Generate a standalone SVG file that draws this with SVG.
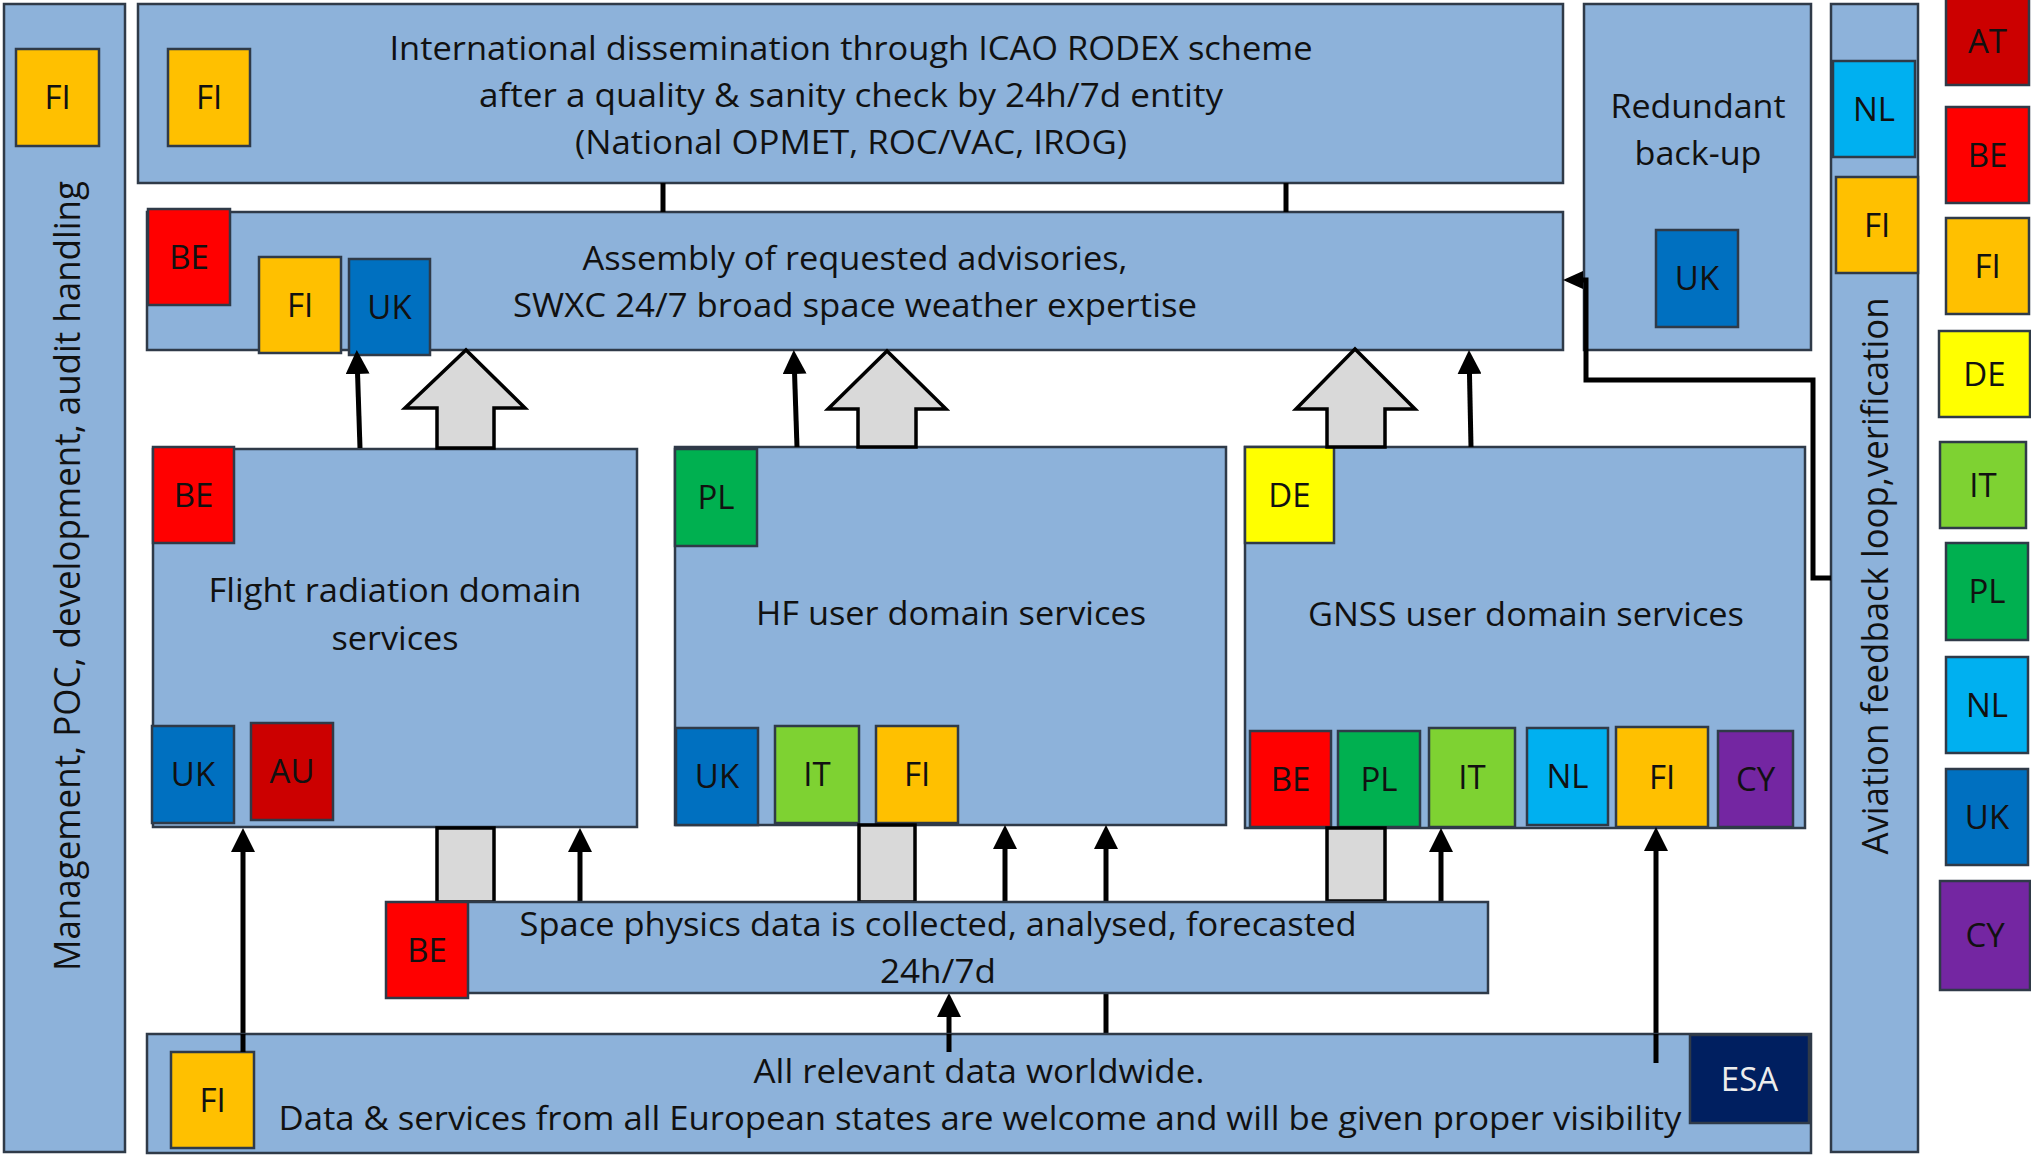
<svg xmlns="http://www.w3.org/2000/svg" width="2031" height="1156" viewBox="0 0 2031 1156">
<defs>
<style>
.box{fill:#8DB2DA;stroke:#2F3A48;stroke-width:2.5}
.tag{stroke:#2F3A48;stroke-width:2.5}
.t{font-family:"Open Sans","Noto Sans","Liberation Sans",sans-serif;font-size:33px;fill:#111;text-anchor:middle}
.vt{font-family:"Open Sans","Noto Sans","Liberation Sans",sans-serif;font-size:36px;fill:#111;text-anchor:middle}
.lb{font-family:"Open Sans","Noto Sans","Liberation Sans",sans-serif;font-size:33px;fill:#111;text-anchor:middle}
.fi{fill:#FFC000}.be{fill:#FF0000}.uk{fill:#0070C0}.au{fill:#CC0000}.pl{fill:#00B050}.it{fill:#7ED232}.nl{fill:#00B0F0}.de{fill:#FFFF00}.cy{fill:#7426A2}.esa{fill:#001F60}
.ln{fill:none;stroke:#000;stroke-width:5}
.ar{fill:none;stroke:#000;stroke-width:5;marker-end:url(#ah)}
.ga{fill:#D9D9D9;stroke:#000;stroke-width:3.5}
</style>
<marker id="ah" viewBox="0 0 24 24" refX="14" refY="12" markerWidth="24" markerHeight="24" markerUnits="userSpaceOnUse" orient="auto"><path d="M0,0 L24,12 L0,24 Z" fill="#000"/></marker>
<marker id="ah2" viewBox="0 0 20 18" refX="12" refY="9" markerWidth="20" markerHeight="18" markerUnits="userSpaceOnUse" orient="auto"><path d="M0,0 L20,9 L0,18 Z" fill="#000"/></marker>
</defs>
<rect width="2031" height="1156" fill="#fff"/>

<g id="management">
<rect class="box" x="4" y="4" width="121" height="1148"/>
<rect class="tag fi" x="16" y="49" width="83" height="97"/><text class="lb" x="57.5" y="109">FI</text>
<text class="vt" transform="translate(80,576) rotate(-90)" textLength="790" lengthAdjust="spacingAndGlyphs">Management, POC, development, audit handling</text>
</g>

<g id="dissemination">
<rect class="box" x="138" y="4" width="1425" height="179"/>
<rect class="tag fi" x="168" y="49" width="82" height="97"/><text class="lb" x="209" y="109">FI</text>
<text class="t" x="851" y="60" textLength="923" lengthAdjust="spacingAndGlyphs">International dissemination through ICAO RODEX scheme</text>
<text class="t" x="851" y="107" textLength="744" lengthAdjust="spacingAndGlyphs">after a quality &amp; sanity check by 24h/7d entity</text>
<text class="t" x="851" y="154" textLength="552" lengthAdjust="spacingAndGlyphs">(National OPMET, ROC/VAC, IROG)</text>
</g>

<g id="assembly">
<rect class="box" x="147" y="212" width="1416" height="138"/>
<rect class="tag be" x="148" y="209" width="82" height="96"/><text class="lb" x="189" y="269">BE</text>
<rect class="tag fi" x="259" y="257" width="82" height="96"/><text class="lb" x="300" y="317">FI</text>
<rect class="tag uk" x="349" y="259" width="81" height="96"/><text class="lb" x="389.5" y="319">UK</text>
<text class="t" x="855" y="270" textLength="545" lengthAdjust="spacingAndGlyphs">Assembly of requested advisories,</text>
<text class="t" x="855" y="317" textLength="684" lengthAdjust="spacingAndGlyphs">SWXC 24/7 broad space weather expertise</text>
</g>

<g id="redundant">
<rect class="box" x="1584" y="4" width="227" height="346"/>
<text class="t" x="1698" y="118" textLength="175" lengthAdjust="spacingAndGlyphs">Redundant</text>
<text class="t" x="1698" y="165" textLength="127" lengthAdjust="spacingAndGlyphs">back-up</text>
<rect class="tag uk" x="1656" y="230" width="82" height="97"/><text class="lb" x="1697" y="290">UK</text>
</g>

<g id="aviation">
<rect class="box" x="1831" y="4" width="87" height="1148"/>
<rect class="tag nl" x="1833" y="61" width="82" height="96"/><text class="lb" x="1874" y="121">NL</text>
<rect class="tag fi" x="1836" y="177" width="82" height="96"/><text class="lb" x="1877" y="237">FI</text>
<text class="vt" transform="translate(1888,576) rotate(-90)" textLength="557" lengthAdjust="spacingAndGlyphs">Aviation feedback loop,verification</text>
</g>

<g id="flight">
<rect class="box" x="153" y="449" width="484" height="378"/>
<rect class="tag be" x="153" y="447" width="81" height="96"/><text class="lb" x="193.5" y="507">BE</text>
<text class="t" x="395" y="602" textLength="373" lengthAdjust="spacingAndGlyphs">Flight radiation domain</text>
<text class="t" x="395" y="650" textLength="127" lengthAdjust="spacingAndGlyphs">services</text>
<rect class="tag uk" x="152" y="726" width="82" height="97"/><text class="lb" x="193" y="786">UK</text>
<rect class="tag au" x="251" y="723" width="82" height="97"/><text class="lb" x="292" y="783">AU</text>
</g>

<g id="hf">
<rect class="box" x="675" y="447" width="551" height="378"/>
<rect class="tag pl" x="675" y="449" width="82" height="97"/><text class="lb" x="716" y="509">PL</text>
<text class="t" x="951" y="625" textLength="390" lengthAdjust="spacingAndGlyphs">HF user domain services</text>
<rect class="tag uk" x="676" y="728" width="82" height="97"/><text class="lb" x="717" y="788">UK</text>
<rect class="tag it" x="775" y="726" width="84" height="97"/><text class="lb" x="817" y="786">IT</text>
<rect class="tag fi" x="876" y="726" width="82" height="97"/><text class="lb" x="917" y="786">FI</text>
</g>

<g id="gnss">
<rect class="box" x="1245" y="447" width="560" height="381"/>
<rect class="tag de" x="1245" y="447" width="89" height="96"/><text class="lb" x="1289.5" y="507">DE</text>
<text class="t" x="1526" y="626" textLength="436" lengthAdjust="spacingAndGlyphs">GNSS user domain services</text>
<rect class="tag be" x="1250" y="731" width="81" height="96"/><text class="lb" x="1290.5" y="791">BE</text>
<rect class="tag pl" x="1338" y="731" width="82" height="96"/><text class="lb" x="1379" y="791">PL</text>
<rect class="tag it" x="1429" y="728" width="86" height="99"/><text class="lb" x="1472" y="789">IT</text>
<rect class="tag nl" x="1527" y="728" width="81" height="97"/><text class="lb" x="1567.5" y="788">NL</text>
<rect class="tag fi" x="1616" y="727" width="92" height="100"/><text class="lb" x="1662" y="789">FI</text>
<rect class="tag cy" x="1718" y="731" width="75" height="96"/><text class="lb" x="1755.5" y="791">CY</text>
</g>

<g id="connectors">
<line class="ln" x1="663" y1="183" x2="663" y2="212"/>
<line class="ln" x1="1286" y1="183" x2="1286" y2="212"/>
<polygon class="ga" points="437,448 437,408 405,408 466,350 525,408 494,408 494,448"/>
<polygon class="ga" points="858,447 858,409 828,409 887,351 946,409 916,409 916,447"/>
<polygon class="ga" points="1327,447 1327,409 1296,409 1355,349 1415,409 1385,409 1385,447"/>
<rect class="ga" x="437" y="828" width="57" height="74"/>
<rect class="ga" x="859" y="825" width="56" height="77"/>
<rect class="ga" x="1327" y="828" width="58" height="73"/>
<path class="ar" d="M360,448 L357.1,360"/>
<path class="ar" d="M797,447 L794.1,360"/>
<path class="ar" d="M1471,447 L1469.2,360"/>
<path class="ar" d="M243,1052 L243,838"/>
<path class="ar" d="M580,902 L580,838"/>
<path class="ar" d="M1005,907 L1005,835"/>
<path class="ar" d="M1106,902 L1106,835"/>
<path class="ln" d="M1106,993 L1106,1034"/>
<path class="ar" d="M949,1052 L949,1003"/>
<path class="ar" d="M1441,907 L1441,838"/>
<path class="ar" d="M1656,1063 L1656,837"/>
<path fill="none" stroke="#000" stroke-width="5" marker-end="url(#ah2)" d="M1831,578 L1813,578 L1813,380 L1586,380 L1586,280 L1571,280"/>
</g>

<g id="space">
<rect class="box" x="460" y="902" width="1028" height="91"/>
<rect class="tag be" x="386" y="902" width="82" height="96"/><text class="lb" x="427" y="962">BE</text>
<text class="t" x="938" y="936" textLength="837" lengthAdjust="spacingAndGlyphs">Space physics data is collected, analysed, forecasted</text>
<text class="t" x="938" y="983" textLength="116" lengthAdjust="spacingAndGlyphs">24h/7d</text>
</g>

<g id="alldata">
<rect class="box" x="147" y="1034" width="1664" height="119"/>
<rect class="tag fi" x="171" y="1052" width="83" height="96"/><text class="lb" x="212.5" y="1112">FI</text>
<text class="t" x="979" y="1083" textLength="451" lengthAdjust="spacingAndGlyphs">All relevant data worldwide.</text>
<text class="t" x="980" y="1130" textLength="1403" lengthAdjust="spacingAndGlyphs">Data &amp; services from all European states are welcome and will be given proper visibility</text>
<rect class="tag esa" x="1690" y="1035" width="119" height="88"/><text class="lb" x="1749.5" y="1091" style="fill:#EDEDED">ESA</text>
</g>

<g id="connectors-front">
<path class="ln" d="M243,1052 L243,1034"/>
<path class="ln" d="M949,1052 L949,1034"/>
<path class="ln" d="M1656,1063 L1656,1034"/>
</g>

<g id="legend">
<rect class="tag au" x="1946" y="-3" width="83" height="88"/><text class="lb" x="1987.5" y="53">AT</text>
<rect class="tag be" x="1946" y="107" width="83" height="96"/><text class="lb" x="1987.5" y="167">BE</text>
<rect class="tag fi" x="1946" y="218" width="83" height="96"/><text class="lb" x="1987.5" y="278">FI</text>
<rect class="tag de" x="1939" y="331" width="91" height="86"/><text class="lb" x="1984.5" y="386">DE</text>
<rect class="tag it" x="1940" y="442" width="86" height="86"/><text class="lb" x="1983" y="497">IT</text>
<rect class="tag pl" x="1946" y="543" width="82" height="97"/><text class="lb" x="1987" y="603">PL</text>
<rect class="tag nl" x="1946" y="657" width="82" height="96"/><text class="lb" x="1987" y="717">NL</text>
<rect class="tag uk" x="1946" y="769" width="82" height="96"/><text class="lb" x="1987" y="829">UK</text>
<rect class="tag cy" x="1940" y="881" width="90" height="109"/><text class="lb" x="1985" y="947">CY</text>
</g>
</svg>
